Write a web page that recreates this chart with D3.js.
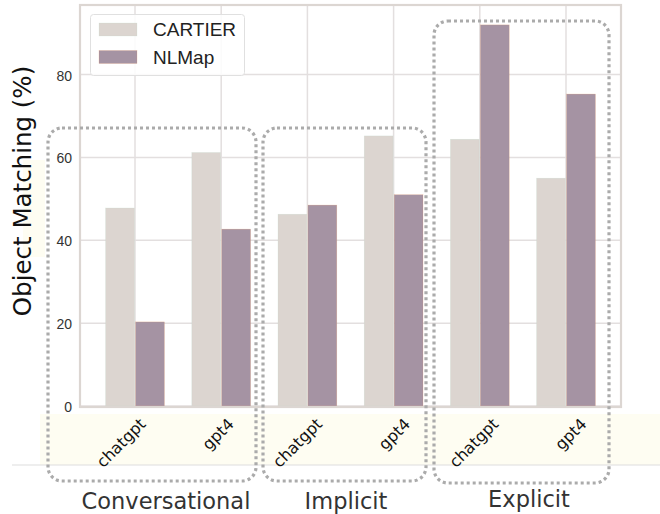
<!DOCTYPE html>
<html>
<head>
<meta charset="utf-8">
<script src="https://cdn.jsdelivr.net/npm/d3@7"></script>
<style>
  body { margin: 0; background: #fff; }
  svg { display: block; }
</style>
</head>
<body>
<svg id="chart" width="660" height="514"></svg>
<script>
/*************************
 *  data
*************************/
const groups = ["Conversational", "Implicit", "Explicit"]
const models = ["chatgpt", "gpt4"]
const series = ["CARTIER", "NLMap"]
const cartier = [47.8, 61.2, 46.3, 65.2, 64.4, 55.0]
const nlmap = [20.3, 42.7, 48.5, 51.0, 92.0, 75.3]
const yTicks = [0, 20, 40, 60, 80]

const colors = {CARTIER: "#dcd5d0", NLMap: "#a593a3"}
const edges = {CARTIER: "#bfd9cb", NLMap: "#e8935a"}

// one key per bar slot: group|model
const keys = []
groups.forEach(g => models.forEach(m => keys.push({group: g, model: m, id: g + "|" + m})))
const rows = keys.map((k, i) => ({...k, CARTIER: cartier[i], NLMap: nlmap[i]}))

/*************************
 *  scales
*************************/
const plot = {left: 80, right: 621, top: 5, bottom: 406}

const x = d3.scaleBand()
    .domain(keys.map(k => k.id))
    .range([plot.left, plot.right])
    .paddingInner(0)
    .paddingOuter(0.138)

const xc = id => x(id) + x.bandwidth() / 2

const inner = d3.scaleBand()
    .domain(series)
    .range([-30, 30])

const y = d3.scaleLinear()
    .domain([0, 96.8])
    .range([plot.bottom, plot.top])

const svg = d3.select("#chart")

/*************************
 *  background bits
*************************/
// pale strip under the tick labels
svg.append("rect")
    .attr("x", 40).attr("y", 414)
    .attr("width", 620).attr("height", 51)
    .attr("fill", "#fefdf2")
svg.append("line")
    .attr("x1", 12).attr("x2", 660)
    .attr("y1", 465).attr("y2", 465)
    .attr("stroke", "#dedede").attr("stroke-width", 1.2)
svg.append("rect")
    .attr("x", 23).attr("y", 160)
    .attr("width", 22).attr("height", 97)
    .attr("fill", "#fefdf2")

// grid
const grid = svg.append("g").attr("id", "grid")
grid.selectAll(".hgrid")
    .data(yTicks)
    .join("line")
    .attr("x1", plot.left).attr("x2", plot.right)
    .attr("y1", d => y(d)).attr("y2", d => y(d))
    .attr("stroke", "#e3dfdf").attr("stroke-width", 1.5)
grid.selectAll(".vgrid")
    .data(keys)
    .join("line")
    .attr("x1", d => xc(d.id)).attr("x2", d => xc(d.id))
    .attr("y1", plot.top).attr("y2", plot.bottom)
    .attr("stroke", "#e3dfdf").attr("stroke-width", 1.5)

/*************************
 *  bars
*************************/
svg.append("g")
    .attr("id", "bars")
    .selectAll("g")
    .data(rows)
    .join("g")
    .selectAll("rect")
    .data(d => series.map(s => ({id: d.id, s: s, v: d[s]})))
    .join("rect")
    .attr("x", d => xc(d.id) + inner(d.s) + 0.6)
    .attr("y", d => y(d.v))
    .attr("width", inner.bandwidth() - 1.2)
    .attr("height", d => y(0) - y(d.v))
    .attr("fill", d => colors[d.s])
    .attr("stroke", d => edges[d.s])
    .attr("stroke-width", 0.5)
    .attr("stroke-opacity", 0.4)

// frame
svg.append("rect")
    .attr("x", plot.left).attr("y", plot.top)
    .attr("width", plot.right - plot.left)
    .attr("height", plot.bottom + 1 - plot.top)
    .attr("fill", "none")
    .attr("stroke", "#dcd6d2").attr("stroke-width", 2.2)

/*************************
 *  axes
*************************/
const axisLeft = d3.axisLeft(y)
    .tickValues(yTicks)
    .tickSize(0)
    .tickPadding(0)
    .tickFormat(d3.format("d"))

svg.append("g")
    .attr("transform", "translate(72,1)")
    .call(axisLeft)
    .call(g => g.select(".domain").remove())
    .selectAll("text")
    .attr("font-family", "Liberation Sans, Arial, sans-serif")
    .attr("font-size", 14)
    .attr("fill", "#333")

const labelX = id => 367.2 + 1.023 * (xc(id) - 350.5)

svg.append("g")
    .attr("id", "xlabels")
    .selectAll("text")
    .data(keys)
    .join("text")
    .attr("transform", d => `translate(${labelX(d.id)},425) rotate(-45)`)
    .attr("text-anchor", "end")
    .attr("font-family", "DejaVu Sans, sans-serif")
    .attr("font-size", 16)
    .attr("fill", "#111")
    .text(d => d.model)

svg.append("text")
    .attr("transform", "translate(31,191) rotate(-90)")
    .attr("text-anchor", "middle")
    .attr("font-family", "DejaVu Sans, sans-serif")
    .attr("font-size", 24.5)
    .attr("fill", "#111")
    .text("Object Matching (%)")

/*************************
 *  group boxes + labels
*************************/
const boxes = [
    {x0: 48, x1: 256, y0: 128, y1: 481},
    {x0: 263, x1: 426, y0: 128, y1: 481},
    {x0: 434, x1: 609, y0: 21, y1: 483}
]
svg.append("g")
    .selectAll("rect")
    .data(boxes)
    .join("rect")
    .attr("x", d => d.x0).attr("y", d => d.y0)
    .attr("width", d => d.x1 - d.x0)
    .attr("height", d => d.y1 - d.y0)
    .attr("rx", 14)
    .attr("fill", "none")
    .attr("stroke", "#ababab")
    .attr("stroke-width", 3.2)
    .attr("stroke-dasharray", "3,3")

const groupLabelPos = [{x: 166, y: 509}, {x: 346, y: 509}, {x: 529, y: 507}]
svg.append("g")
    .selectAll("text")
    .data(groups)
    .join("text")
    .attr("x", (d, i) => groupLabelPos[i].x)
    .attr("y", (d, i) => groupLabelPos[i].y)
    .attr("text-anchor", "middle")
    .attr("font-family", "DejaVu Sans, sans-serif")
    .attr("font-size", 22.5)
    .attr("fill", "#333")
    .text(d => d)

/*************************
 *  legend
*************************/
const legend = svg.append("g").attr("id", "legend")
legend.append("rect")
    .attr("x", 90.5).attr("y", 14.5)
    .attr("width", 154).attr("height", 61)
    .attr("rx", 3)
    .attr("fill", "#fff").attr("fill-opacity", 0.85)
    .attr("stroke", "#e0e0e0")

const li = legend.selectAll(".item")
    .data(series)
    .join("g")
    .attr("transform", (d, i) => `translate(0,${i * 27.5})`)
li.append("rect")
    .attr("x", 99).attr("y", 23)
    .attr("width", 38).attr("height", 13)
    .attr("fill", d => colors[d])
    .attr("stroke", d => edges[d]).attr("stroke-width", 0.5).attr("stroke-opacity", 0.4)
li.append("text")
    .attr("x", 153).attr("y", 36)
    .attr("font-family", "Liberation Sans, Arial, sans-serif")
    .attr("font-size", 19)
    .attr("fill", "#222")
    .text(d => d)
</script>
</body>
</html>
